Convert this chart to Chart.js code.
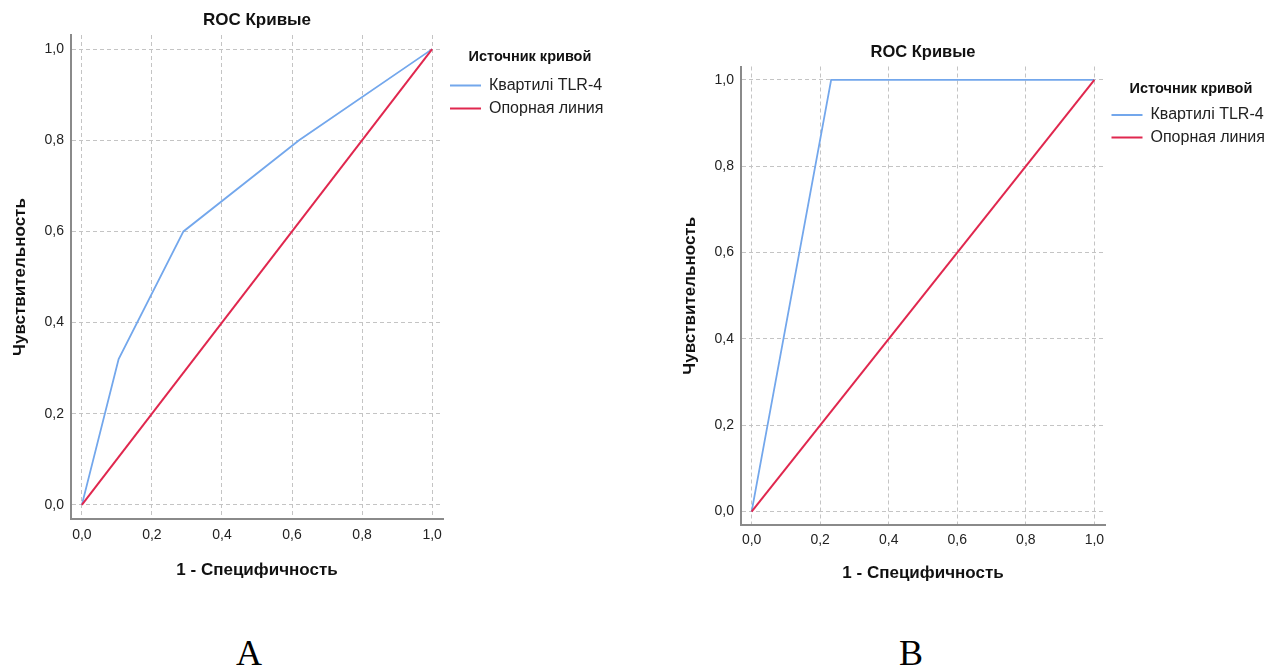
<!DOCTYPE html>
<html><head><meta charset="utf-8">
<script src="https://cdn.jsdelivr.net/npm/chart.js@4.4.1/dist/chart.umd.min.js"></script>
<style>
html,body{margin:0;padding:0;background:#fff;width:1282px;height:668px;overflow:hidden;position:relative}
canvas{position:absolute;top:0}
#cA{left:0}
#cB{left:670px}
.lbl{position:absolute;top:635px;width:80px;text-align:center;font-family:"Liberation Serif","Times New Roman",serif;font-size:36px;line-height:36px;color:#000}
</style></head><body>
<canvas id="cA" width="660" height="600"></canvas>
<canvas id="cB" width="612" height="600"></canvas>
<div class="lbl" style="left:209px">A</div>
<div class="lbl" style="left:871px">B</div>
<script>
// ---- data ----
const TICKS = [0, 0.2, 0.4, 0.6, 0.8, 1.0];
const TICK_LABELS = ['0,0', '0,2', '0,4', '0,6', '0,8', '1,0'];
const SERIES_NAMES = ['Квартилі TLR-4', 'Опорная линия'];
const A_FPR = [0, 0.105, 0.29, 0.62, 1];
const A_TPR = [0, 0.32, 0.6, 0.8, 1];
const B_FPR = [0, 0.232, 1];
const B_TPR = [0, 1, 1];
const REF_X = [0, 1];
const REF_Y = [0, 1];
const TITLE = 'ROC Кривые';
const X_TITLE = '1 - Специфичность';
const Y_TITLE = 'Чувствительность';
const LEGEND_TITLE = 'Источник кривой';

Chart.defaults.font.family = '"Liberation Sans", Arial, sans-serif';

const pts = (xs, ys) => xs.map((x, i) => ({x: x, y: ys[i]}));
const fixTicks = s => { s.ticks = TICKS.map(v => ({value: v})); };
const fmt = v => { const i = TICKS.indexOf(v); return i >= 0 ? TICK_LABELS[i] : ''; };

function legendWidth(w) {
  return {
    id: 'legW',
    afterInit(chart) {
      const lg = chart.legend;
      if (!lg) return;
      const f = lg.fit;
      lg.fit = function () { f.call(this); this.width = w; };
    }
  };
}

function build(id, fpr, tpr, L) {
  return new Chart(document.getElementById(id), {
    type: 'line',
    data: {
      datasets: [
        {label: SERIES_NAMES[0], data: pts(fpr, tpr), borderColor: '#73a7ec', backgroundColor: '#73a7ec',
         borderWidth: 1.8, pointRadius: 0, tension: 0, order: 1},
        {label: SERIES_NAMES[1], data: pts(REF_X, REF_Y), borderColor: '#e0274e', backgroundColor: '#e0274e',
         borderWidth: 2, pointRadius: 0, tension: 0, order: 0}
      ]
    },
    options: {
      responsive: false, animation: false, devicePixelRatio: 1,
      layout: {padding: {left: 0, top: 0, right: L.padR, bottom: L.padB}},
      plugins: {
        tooltip: {enabled: false},
        title: {display: true, text: TITLE, fullSize: false, color: '#111',
                font: {size: L.titleSize, weight: 'bold'},
                padding: {top: L.titleTop, bottom: L.titleBottom}},
        legend: {
          position: 'right', align: 'start',
          labels: {usePointStyle: true, pointStyle: 'line', pointStyleWidth: 31,
                   padding: L.legPad, color: '#222', font: {size: 16},
                   sort: (a, b) => a.datasetIndex - b.datasetIndex},
          title: {display: true, text: LEGEND_TITLE, color: '#111', position: 'center',
                  font: {size: 14.5, weight: 'bold'},
                  padding: {top: L.legTitleTop, bottom: L.legTitleBottom}}
        }
      },
      scales: {
        x: {
          type: 'linear', min: -0.031, max: 1.031,
          afterBuildTicks: fixTicks,
          afterFit: s => { s.height = L.xH; },
          grid: {color: '#c4c4c4', lineWidth: 1, drawTicks: false},
          border: {display: true, color: '#8a8a8a', width: 2, dash: [4, 3]},
          ticks: {autoSkip: false, maxRotation: 0, padding: L.xPad, color: '#222', font: {size: 14}, callback: v => fmt(v)},
          title: {display: true, text: X_TITLE, color: '#111', font: {size: 17, weight: 'bold'}, padding: {top: 0, bottom: 0}}
        },
        y: {
          type: 'linear', min: -0.031, max: 1.031,
          afterBuildTicks: fixTicks,
          afterFit: s => { s.width = 71; },
          grid: {color: '#c4c4c4', lineWidth: 1, drawTicks: false},
          border: {display: true, color: '#8a8a8a', width: 2, dash: [4, 3]},
          ticks: {autoSkip: false, padding: 7, color: '#222', font: {size: 14}, callback: v => fmt(v)},
          title: {display: true, text: Y_TITLE, color: '#111', font: {size: 17, weight: 'bold'}, padding: {top: 10, bottom: 0}}
        }
      }
    },
    plugins: [legendWidth(L.legW)]
  });
}

build('cA', A_FPR, A_TPR, {
  padR: 43, padB: 19.8, titleSize: 17, titleTop: 9.8, titleBottom: 4.8,
  legPad: 7, legTitleTop: 49.75, legTitleBottom: 3.35, legW: 174,
  xH: 61.2, xPad: 7.6
});
build('cB', B_FPR, B_TPR, {
  padR: 5, padB: 16.3, titleSize: 16.5, titleTop: 42.6, titleBottom: 4.1,
  legPad: 6.5, legTitleTop: 81.75, legTitleBottom: 1.35, legW: 172,
  xH: 58.7, xPad: 6.6
});
</script>
</body></html>
